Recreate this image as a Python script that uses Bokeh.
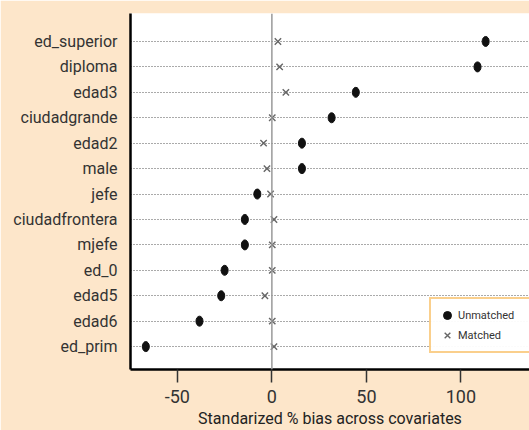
from bokeh.plotting import figure
from bokeh.models import Range1d, FixedTicker, Span, Legend, LegendItem
from bokeh.embed import file_html
from bokeh.resources import INLINE

covariates = ["ed_prim", "edad6", "edad5", "ed_0", "mjefe", "ciudadfrontera", "jefe",
              "male", "edad2", "ciudadgrande", "edad3", "diploma", "ed_superior"]
unmatched = [-66.7, -38.3, -26.8, -25.0, -14.3, -14.3, -7.7, 15.9, 15.9, 31.6, 44.4, 108.8, 113.1]
matched = [1.1, 0.2, -3.7, 0.2, 0.2, 1.1, -0.7, -2.6, -4.4, 0.2, 7.4, 4.1, 3.2]
x_ticks = [-50, 0, 50, 100]
x_tick_labels = ["-50", "0", "50", "100"]

ypos = list(range(1, len(covariates) + 1))
FONT = "Roboto"

p = figure(width=529, height=430, output_backend="svg", toolbar_location=None,
           x_range=Range1d(-74.8, 136.3), y_range=Range1d(0.1, 14.1),
           min_border_left=130, min_border_right=0, min_border_top=13, min_border_bottom=60)
p.background_fill_color = "white"
p.border_fill_color = "#FDE6CA"
p.outline_line_color = None

p.xgrid.grid_line_color = None
p.ygrid.ticker = FixedTicker(ticks=ypos)
p.ygrid.grid_line_color = "#555555"
p.ygrid.grid_line_dash = "1 2"
p.ygrid.grid_line_width = 1

p.add_layout(Span(location=0, dimension="height", line_color="#999999", line_width=1.5))

r_u = p.ellipse(x=unmatched, y=ypos, width=7, height=10, width_units="screen",
                height_units="screen", fill_color="#111111", line_color="#111111")
r_m = p.scatter(x=matched, y=ypos, marker="x", size=9, line_color="#666666", line_width=1.4)

# legend proxy for the unmatched dots (zero size in the plot; the legend sizes it)
leg_u = p.scatter(x=unmatched, y=ypos, marker="circle", size=0,
                  fill_color="#111111", line_color="#111111")

# axes
p.xaxis.ticker = FixedTicker(ticks=x_ticks)
p.xaxis.major_label_overrides = {t: s for t, s in zip(x_ticks, x_tick_labels)}
p.xaxis.axis_line_color = "black"
p.xaxis.axis_line_width = 2.5
p.xaxis.major_tick_out = 13
p.xaxis.major_tick_in = 0
p.xaxis.major_tick_line_color = "#333333"
p.xaxis.major_tick_line_width = 1.5
p.xaxis.minor_tick_line_color = None
p.xaxis.major_label_text_font = FONT
p.xaxis.major_label_text_font_size = "18px"
p.xaxis.major_label_text_color = "#333333"
p.xaxis.major_label_standoff = 7
p.xaxis.axis_label = "Standarized % bias across covariates"
p.xaxis.axis_label_text_font = FONT
p.xaxis.axis_label_text_font_style = "normal"
p.xaxis.axis_label_text_font_size = "16px"
p.xaxis.axis_label_text_color = "#222222"
p.xaxis.axis_label_standoff = 3

p.yaxis.ticker = FixedTicker(ticks=ypos)
p.yaxis.major_label_overrides = {i: c for i, c in zip(ypos, covariates)}
p.yaxis.axis_line_color = "black"
p.yaxis.axis_line_width = 2.5
p.yaxis.major_tick_out = 0
p.yaxis.major_tick_in = 0
p.yaxis.minor_tick_line_color = None
p.yaxis.major_label_text_font = FONT
p.yaxis.major_label_text_font_size = "16px"
p.yaxis.major_label_text_color = "#333333"
p.yaxis.major_label_standoff = 13

legend = Legend(items=[LegendItem(label="Unmatched", renderers=[leg_u]),
                       LegendItem(label="Matched", renderers=[r_m])],
                location=(299, 16))
legend.border_line_color = "#F5A01A"
legend.border_line_width = 2
legend.background_fill_color = "white"
legend.label_text_font = FONT
legend.label_text_font_size = "11px"
legend.label_text_color = "#333333"
legend.padding = 6
legend.spacing = 0
legend.glyph_width = 20
legend.glyph_height = 20
legend.label_height = 20
legend.label_width = 100
legend.label_standoff = 1
p.add_layout(legend, "center")

open("out.html", "w").write(file_html(p, INLINE))
